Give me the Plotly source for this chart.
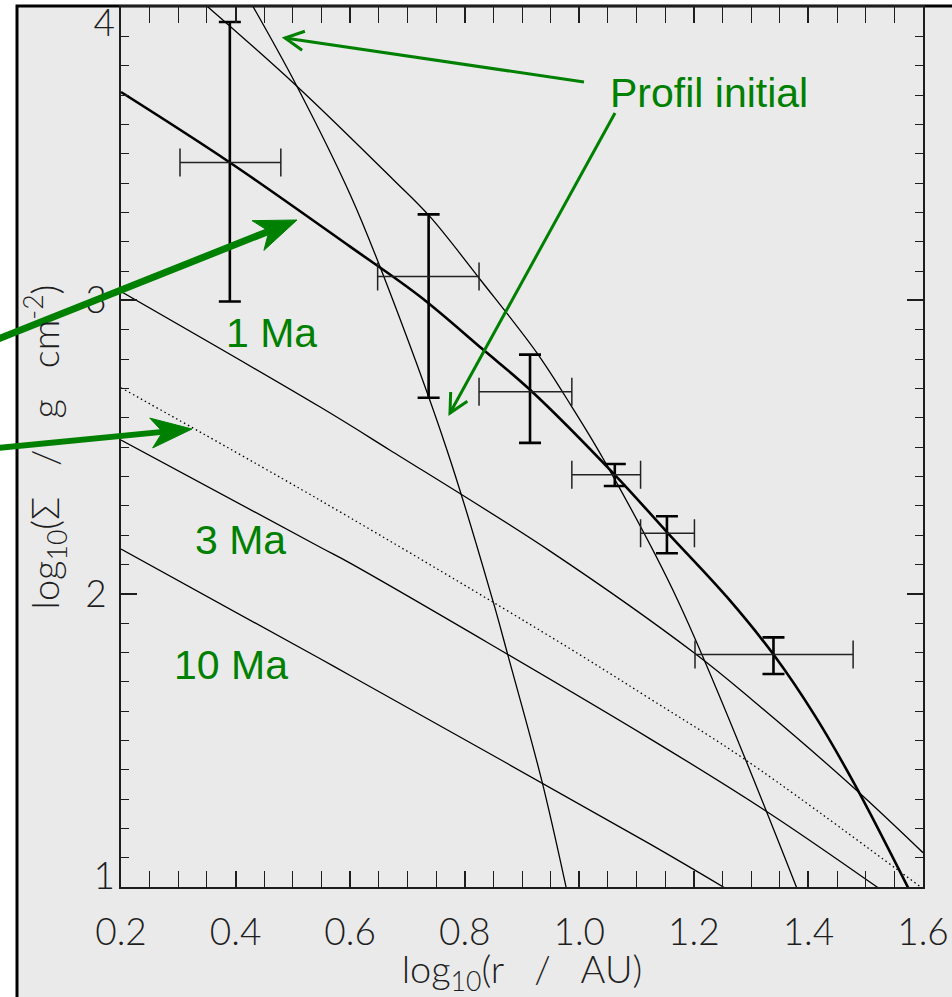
import math
import plotly.graph_objects as go

# ---------------- data ----------------
# thick solid curve (fit)
fit_x = [0.200, 0.390, 0.600, 0.722, 0.832, 0.914, 1.062, 1.153, 1.258, 1.340, 1.411, 1.481, 1.576]
fit_y = [3.710, 3.470, 3.183, 3.013, 2.832, 2.695, 2.405, 2.210, 1.988, 1.790, 1.585, 1.349, 0.990]

# initial profile, curved (less steep)
initA_x = [0.350, 0.507, 0.675, 0.739, 0.827, 0.926, 0.987, 1.045, 1.172, 1.381]
initA_y = [4.003, 3.730, 3.412, 3.286, 3.071, 2.821, 2.637, 2.449, 1.977, 0.990]

# initial profile, steep
initB_x = [0.430, 0.507, 0.600, 0.652, 0.769, 0.849, 0.875, 0.935, 0.978]
initB_y = [4.003, 3.730, 3.361, 3.115, 2.490, 1.977, 1.793, 1.359, 0.990]

# 1 Ma
ma1_x = [0.200, 0.547, 0.669, 0.949, 1.202, 1.303, 1.481, 1.600]
ma1_y = [3.030, 2.637, 2.490, 2.145, 1.796, 1.636, 1.335, 1.117]

# dotted curve
dot_x = [0.200, 0.547, 0.954, 1.120, 1.292, 1.598]
dot_y = [2.702, 2.319, 1.848, 1.646, 1.431, 0.997]

# 3 Ma
ma3_x = [0.200, 0.547, 0.600, 1.123, 1.333, 1.527]
ma3_y = [2.524, 2.159, 2.104, 1.506, 1.250, 0.990]

# 10 Ma
ma10_x = [0.200, 0.547, 0.600, 1.123, 1.260]
ma10_y = [2.152, 1.779, 1.721, 1.147, 0.990]

# observed points with error bars
obs_x = [0.390, 0.737, 0.914, 1.062, 1.153, 1.339]
obs_y = [3.470, 3.081, 2.688, 2.405, 2.206, 1.793]
obs_yerr_up = [0.479, 0.212, 0.127, 0.037, 0.058, 0.058]
obs_yerr_dn = [0.474, 0.413, 0.174, 0.038, 0.068, 0.067]
obs_xerr_lo = [0.087, 0.089, 0.089, 0.075, 0.046, 0.137]
obs_xerr_hi = [0.089, 0.088, 0.073, 0.045, 0.048, 0.139]

# axes
x_tickvals = [0.2, 0.4, 0.6, 0.8, 1.0, 1.2, 1.4, 1.6]
x_ticktext = ["0.2", "0.4", "0.6", "0.8", "1.0", "1.2", "1.4", "1.6"]
y_tickvals = [1, 2, 3, 4]
y_ticktext = ["", "2", "3", ""]      # end labels drawn by nudged overlay axes
y_top_val, y_top_text = [4], ["4"]
y_bot_val, y_bot_text = [1], ["1"]
x_minor = [round(0.2 + 0.05 * i, 3) for i in range(29)]
y_minor = [round(1.0 + 0.1 * i, 3) for i in range(31)]

# ---------------- layout geometry (pixels) ----------------
W, H = 952, 997
L_, R_, T_, B_ = 121, 923, 7, 887
BG = "#EAEAEA"
GREEN = "#008000"
INK = "#1e1e1e"
NB = "\u00a0"


def PX(x):
    return (x - L_) / (R_ - L_)


def PY(y):
    return (B_ - y) / (B_ - T_)


fig = go.Figure()

thin = dict(color="black", width=1.3)
for xs, ys, ln in [
    (initA_x, initA_y, thin),
    (initB_x, initB_y, thin),
    (ma1_x, ma1_y, thin),
    (ma3_x, ma3_y, thin),
    (ma10_x, ma10_y, thin),
    (dot_x, dot_y, dict(color="black", width=1.3, dash="1.5px,3px")),
    (fit_x, fit_y, dict(color="black", width=2.6)),
]:
    fig.add_trace(go.Scatter(x=xs, y=ys, mode="lines",
                             line=dict(shape="spline", smoothing=1.0, **ln),
                             hoverinfo="skip", showlegend=False))

fig.add_trace(go.Scatter(
    x=obs_x, y=obs_y, mode="markers",
    marker=dict(size=1, color="rgba(0,0,0,0)"),
    error_y=dict(type="data", symmetric=False, array=obs_yerr_up,
                 arrayminus=obs_yerr_dn, color="black", thickness=2.6, width=11),
    error_x=dict(type="data", symmetric=False, array=obs_xerr_hi,
                 arrayminus=obs_xerr_lo, color="#222222", thickness=1.5, width=14),
    showlegend=False, hoverinfo="skip"))

# placeholder traces so the overlay label axes are drawn
for ax in ("y2", "y3"):
    fig.add_trace(go.Scatter(x=[None], y=[None], yaxis=ax, mode="markers",
                             showlegend=False, hoverinfo="skip"))

FAM = "Lato, 'DejaVu Sans', sans-serif"
tickfont = dict(family=FAM, size=37, weight=300, color=INK)
titlefont = dict(family=FAM, size=38, weight=300, color=INK)

axis_common = dict(
    showline=True, linecolor=INK, linewidth=2, mirror="allticks",
    ticks="inside", ticklen=16, tickwidth=1.6, tickcolor=INK,
    showgrid=False, zeroline=False, tickfont=tickfont,
)

xtitle = "log<sub>10</sub>(r" + NB * 3 + "/" + NB * 3 + "AU)"
ytitle = ("log<sub>10</sub>(Σ" + NB * 3 + "/" + NB * 3 + "g" + NB * 3 + "cm<sup>-2</sup>)")

fig.update_xaxes(range=[0.2, 1.6], tickmode="array", tickvals=x_tickvals, ticktext=x_ticktext,
                 minor=dict(tickmode="array", tickvals=x_minor, ticks="inside", ticklen=8,
                            tickwidth=1.4, tickcolor=INK, showgrid=False),
                 ticklabelstandoff=12,
                 title=dict(text=xtitle, font=titlefont, standoff=19),
                 **axis_common)
fig.update_yaxes(range=[1, 4], tickmode="array", tickvals=y_tickvals, ticktext=y_ticktext,
                 minor=dict(tickmode="array", tickvals=y_minor, ticks="inside", ticklen=8,
                            tickwidth=1.4, tickcolor=INK, showgrid=False),
                 ticklabelstandoff=5, ticklabeloverflow="allow",
                 title=dict(text=ytitle, font=titlefont, standoff=14),
                 **axis_common)

label_axis = dict(overlaying="y", anchor="x", side="left", range=[1, 4], tickmode="array",
                  ticks="", showline=False, showgrid=False, zeroline=False,
                  tickfont=tickfont, ticklabelstandoff=5, ticklabeloverflow="allow")

shapes = []
# outer frame / grey panel
shapes.append(dict(type="rect", xref="paper", yref="paper", layer="below",
                   x0=PX(17), x1=PX(980), y0=PY(1020), y1=PY(6),
                   fillcolor=BG, line=dict(color="black", width=3)))


def unit(a, b):
    dx, dy = b[0] - a[0], b[1] - a[1]
    d = math.hypot(dx, dy)
    return dx / d, dy / d


def P(pt):
    return f"{PX(pt[0]):.5f},{PY(pt[1]):.5f}"


def filled_arrow(tail, tip, hl, hw, notch, sw):
    ux, uy = unit(tail, tip)
    nx, ny = -uy, ux
    back = (tip[0] - hl * ux, tip[1] - hl * uy)
    c1 = (back[0] + hw * nx, back[1] + hw * ny)
    c2 = (back[0] - hw * nx, back[1] - hw * ny)
    nb = (tip[0] - notch * hl * ux, tip[1] - notch * hl * uy)
    shapes.append(dict(type="line", xref="paper", yref="paper",
                       x0=PX(tail[0]), y0=PY(tail[1]), x1=PX(nb[0]), y1=PY(nb[1]),
                       line=dict(color=GREEN, width=sw)))
    shapes.append(dict(type="path", xref="paper", yref="paper",
                       path=f"M{P(tip)} L{P(c1)} L{P(nb)} L{P(c2)} Z",
                       fillcolor=GREEN, line=dict(color=GREEN, width=1)))


def open_arrow(tail, tip, arm, ang, lw):
    bx, by = unit(tip, tail)
    pts = []
    for s in (1, -1):
        a = math.radians(ang * s)
        vx = bx * math.cos(a) - by * math.sin(a)
        vy = bx * math.sin(a) + by * math.cos(a)
        pts.append((tip[0] + arm * vx, tip[1] + arm * vy))
    shapes.append(dict(type="line", xref="paper", yref="paper",
                       x0=PX(tail[0]), y0=PY(tail[1]), x1=PX(tip[0]), y1=PY(tip[1]),
                       line=dict(color=GREEN, width=lw)))
    shapes.append(dict(type="path", xref="paper", yref="paper",
                       path=f"M{P(pts[0])} L{P(tip)} L{P(pts[1])}",
                       line=dict(color=GREEN, width=lw)))


filled_arrow((-2, 339), (297, 220), 42, 16, 0.72, 7)
filled_arrow((-2, 448), (192, 429), 41, 15, 0.72, 6)
open_arrow((584, 82), (285, 38), 21, 27, 3)
open_arrow((615, 113), (450, 413), 21, 27, 3)

labfont = dict(family="Liberation Sans, Arial, sans-serif", size=41, color=GREEN)
annotations = [
    dict(text="Profil initial", x=PX(608), y=PY(93), xanchor="left", yanchor="middle"),
    dict(text="1 Ma", x=PX(271), y=PY(333), xanchor="center", yanchor="middle"),
    dict(text="3 Ma", x=PX(240), y=PY(540), xanchor="center", yanchor="middle"),
    dict(text="10 Ma", x=PX(231), y=PY(665), xanchor="center", yanchor="middle"),
]
for a in annotations:
    a.update(xref="paper", yref="paper", showarrow=False, font=labfont)

fig.update_layout(
    width=W, height=H,
    margin=dict(l=L_, r=W - R_, t=T_, b=H - B_, autoexpand=False),
    paper_bgcolor="white", plot_bgcolor=BG,
    yaxis2=dict(tickvals=y_top_val, ticktext=y_top_text, ticklabelshift=16, **label_axis),
    yaxis3=dict(tickvals=y_bot_val, ticktext=y_bot_text, ticklabelshift=-11, **label_axis),
    shapes=shapes, annotations=annotations, showlegend=False,
)

fig.write_html("out.html", config={"displayModeBar": False},
               post_script="document.body.style.margin='0px';document.body.style.overflow='hidden';")
